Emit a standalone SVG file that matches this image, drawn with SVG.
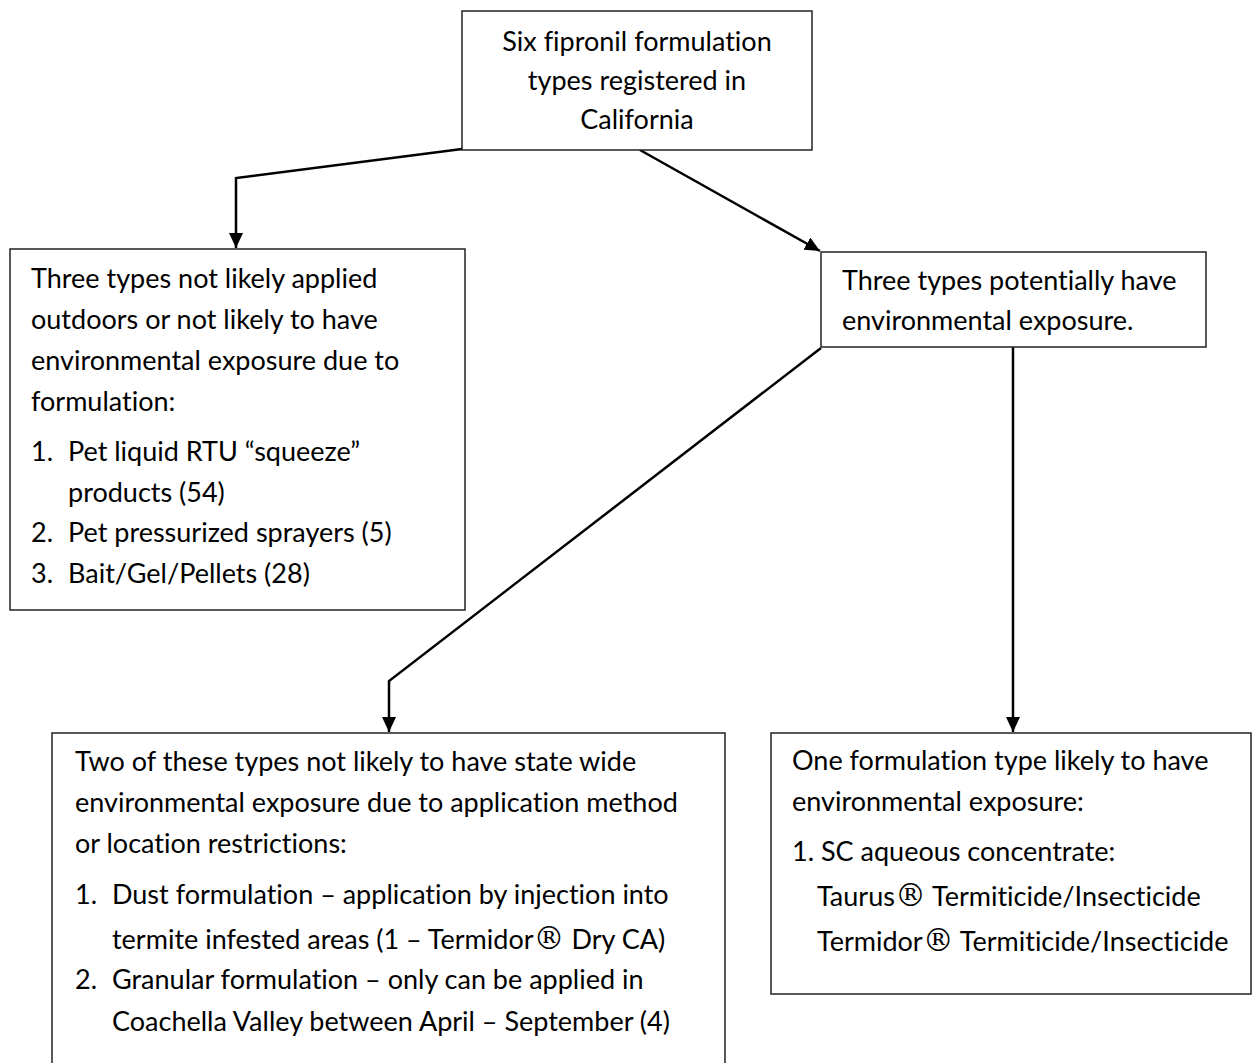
<svg xmlns="http://www.w3.org/2000/svg" width="1252" height="1063" viewBox="0 0 1252 1063">
<style>
.box{fill:#fff;stroke:#222;stroke-width:1.5}
.t{font-family:Lato,"Liberation Sans",sans-serif;font-size:27px;fill:#000;font-variant-ligatures:none}
.c{text-anchor:middle}
.r{font-family:"DejaVu Serif",serif;font-size:31px}
.con{fill:none;stroke:#000;stroke-width:2.5}
</style>
<defs>
<marker id="ah" viewBox="0 0 15 14" refX="15" refY="7" markerWidth="15" markerHeight="14" markerUnits="userSpaceOnUse" orient="auto">
<path d="M0,0 L15,7 L0,14 z" fill="#000"/>
</marker>
</defs>
<rect width="1252" height="1063" fill="#fff"/>
<g id="connectors">
<polyline class="con" points="462,149 236,178 236,248" marker-end="url(#ah)"/>
<line class="con" x1="640" y1="150" x2="820" y2="251" marker-end="url(#ah)"/>
<polyline class="con" points="821,348 389,681 389,732" marker-end="url(#ah)"/>
<line class="con" x1="1013" y1="347" x2="1013" y2="732" marker-end="url(#ah)"/>
</g>
<g id="top">
<rect class="box" x="462" y="11" width="350" height="139"/>
<text class="t c" x="637" y="51">Six fipronil formulation</text>
<text class="t c" x="637" y="90">types registered in</text>
<text class="t c" x="637" y="129">California</text>
</g>
<g id="left">
<rect class="box" x="10" y="249" width="455" height="361"/>
<text class="t" x="31" y="288">Three types not likely applied</text>
<text class="t" x="31" y="329">outdoors or not likely to have</text>
<text class="t" x="31" y="370">environmental exposure due to</text>
<text class="t" x="31" y="411">formulation:</text>
<text class="t" x="31" y="461">1.</text><text class="t" x="68" y="461">Pet liquid RTU “squeeze”</text>
<text class="t" x="68" y="502">products (54)</text>
<text class="t" x="31" y="542">2.</text><text class="t" x="68" y="542">Pet pressurized sprayers (5)</text>
<text class="t" x="31" y="583">3.</text><text class="t" x="68" y="583">Bait/Gel/Pellets (28)</text>
</g>
<g id="right">
<rect class="box" x="821" y="252" width="385" height="95"/>
<text class="t" x="842" y="290">Three types potentially have</text>
<text class="t" x="842" y="330">environmental exposure.</text>
</g>
<g id="bottomleft">
<rect class="box" x="52" y="733" width="673" height="350"/>
<text class="t" x="75" y="771">Two of these types not likely to have state wide</text>
<text class="t" x="75" y="812">environmental exposure due to application method</text>
<text class="t" x="75" y="853">or location restrictions:</text>
<text class="t" x="75" y="904">1.</text><text class="t" x="112" y="904">Dust formulation – application by injection into</text>
<text class="t" x="112" y="949">termite infested areas (1 – Termidor<tspan class="r">®</tspan> Dry CA)</text>
<text class="t" x="75" y="989">2.</text><text class="t" x="112" y="989">Granular formulation – only can be applied in</text>
<text class="t" x="112" y="1031">Coachella Valley between April – September (4)</text>
</g>
<g id="bottomright">
<rect class="box" x="771" y="733" width="480" height="261"/>
<text class="t" x="792" y="770">One formulation type likely to have</text>
<text class="t" x="792" y="811">environmental exposure:</text>
<text class="t" x="792" y="861">1. SC aqueous concentrate:</text>
<text class="t" x="817" y="906">Taurus<tspan class="r">®</tspan> Termiticide/Insecticide</text>
<text class="t" x="817" y="951">Termidor<tspan class="r">®</tspan> Termiticide/Insecticide</text>
</g>
</svg>
